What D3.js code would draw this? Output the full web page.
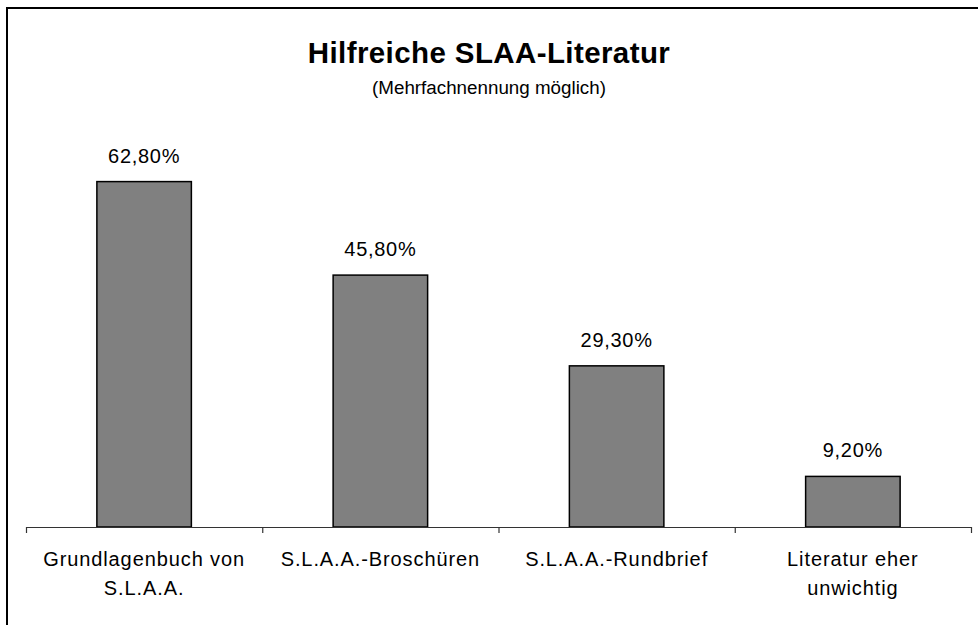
<!DOCTYPE html>
<html>
<head>
<meta charset="utf-8">
<script src="https://cdn.jsdelivr.net/npm/d3@7"></script>
<style>
  body { margin: 0; background: #fff; }
  text { font-family: "Liberation Sans", Arial, sans-serif; fill: #000; }
</style>
</head>
<body>
<div id="chart"></div>
<script>
// data
let categories = [["Grundlagenbuch von", "S.L.A.A."], ["S.L.A.A.-Broschüren"], ["S.L.A.A.-Rundbrief"], ["Literatur eher", "unwichtig"]];
let values = [62.8, 45.8, 29.3, 9.2];
let valueLabels = ["62,80%", "45,80%", "29,30%", "9,20%"];

let svgWidth = 978;
let svgHeight = 625;

let svg = d3.select("#chart")
  .append("svg")
  .attr("width", svgWidth)
  .attr("height", svgHeight);

// outer frame (right and bottom edge run off the picture)
svg.append("rect")
  .attr("x", 7)
  .attr("y", 8)
  .attr("width", 1000)
  .attr("height", 700)
  .attr("fill", "none")
  .attr("stroke", "#000")
  .attr("stroke-width", 2);

// titles
svg.append("text")
  .attr("x", 489)
  .attr("y", 63)
  .attr("text-anchor", "middle")
  .attr("font-size", 29.5)
  .attr("font-weight", "bold")
  .attr("letter-spacing", 0.4)
  .text("Hilfreiche SLAA-Literatur");

svg.append("text")
  .attr("x", 489)
  .attr("y", 94)
  .attr("text-anchor", "middle")
  .attr("font-size", 18.8)
  .text("(Mehrfachnennung möglich)");

// scales
let idx = d3.range(categories.length);
let xScale = d3.scaleBand()
  .domain(idx)
  .range([26, 971])
  .paddingInner(0.6)
  .paddingOuter(0.3);

let edgeScale = d3.scaleLinear()
  .domain([0, categories.length])
  .range([26, 971]);

let yScale = d3.scaleLinear()
  .domain([0, 70])
  .range([527, 142]);

// bars
svg.append("g")
  .selectAll("rect")
  .data(values)
  .enter()
  .append("rect")
  .attr("x", (d, i) => xScale(i))
  .attr("y", d => yScale(d))
  .attr("width", xScale.bandwidth())
  .attr("height", d => yScale(0) - yScale(d))
  .attr("fill", "#808080")
  .attr("stroke", "#000")
  .attr("stroke-width", 1.5);

// value labels
svg.append("g")
  .selectAll("text")
  .data(values)
  .enter()
  .append("text")
  .attr("x", (d, i) => xScale(i) + xScale.bandwidth() / 2)
  .attr("y", d => yScale(d) - 19)
  .attr("text-anchor", "middle")
  .attr("font-size", 20)
  .attr("letter-spacing", 0.7)
  .text((d, i) => valueLabels[i]);

// x axis with ticks at category edges
let bottomAxis = d3.axisBottom(edgeScale)
  .tickValues(d3.range(categories.length + 1))
  .tickFormat("")
  .tickSize(6)
  .tickSizeOuter(0);

let axisG = svg.append("g")
  .attr("transform", `translate(0, ${yScale(0)})`)
  .call(bottomAxis);
axisG.selectAll("path, line").attr("stroke", "#333").attr("stroke-width", 1.2);

// category labels
let catG = svg.append("g")
  .selectAll("text")
  .data(categories)
  .enter()
  .append("text")
  .attr("text-anchor", "middle")
  .attr("font-size", 20)
  .attr("letter-spacing", 0.9);

catG.selectAll("tspan")
  .data((d, i) => d.map(s => ({ s: s, i: i })))
  .enter()
  .append("tspan")
  .attr("x", d => xScale(d.i) + xScale.bandwidth() / 2)
  .attr("y", (d, j) => 566 + j * 29)
  .text(d => d.s);
</script>
</body>
</html>
